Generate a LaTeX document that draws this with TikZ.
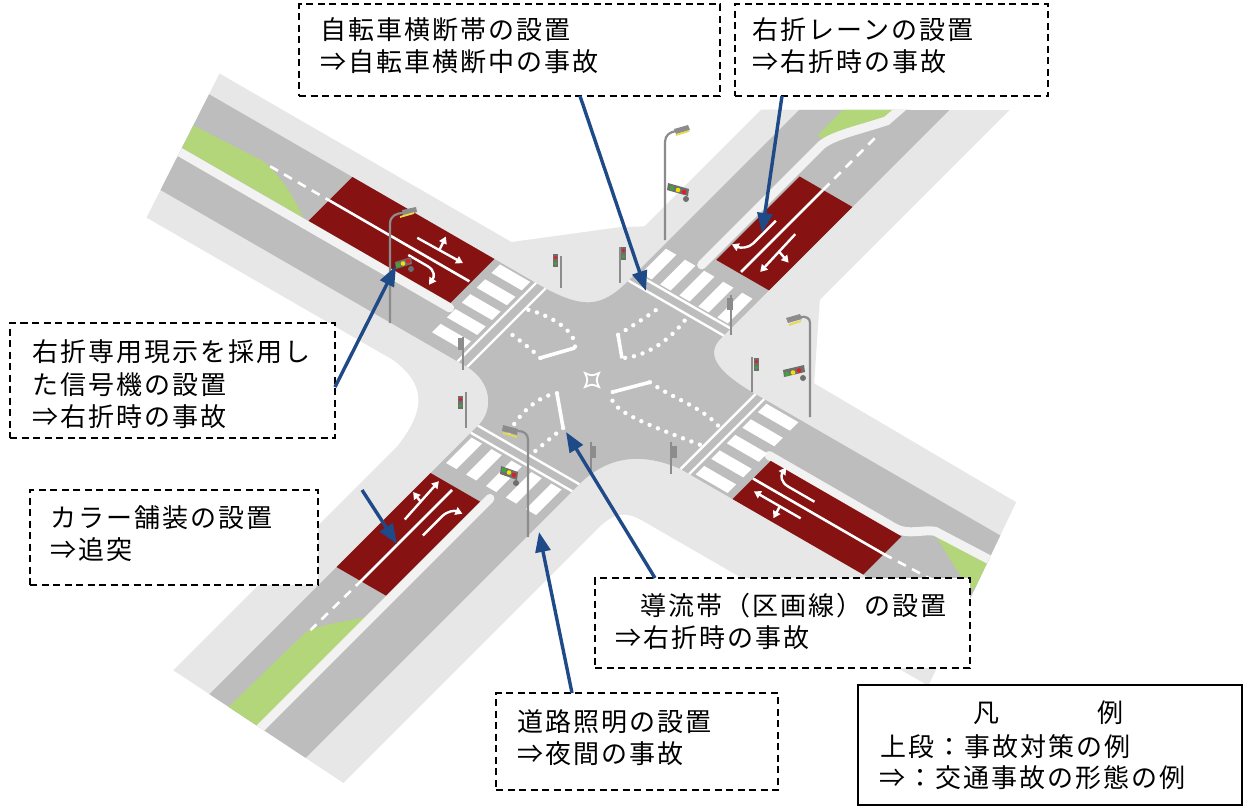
\documentclass[tikz,border=0pt]{standalone}
\usepackage{fontspec}
\newfontfamily\jp[LetterSpace=8]{Noto Sans CJK JP}
\usetikzlibrary{arrows.meta,calc}
\definecolor{walk}{HTML}{E7E7E7}
\definecolor{road}{HTML}{BDBDBD}
\definecolor{pave}{HTML}{861212}
\definecolor{grass}{HTML}{B3D67A}
\definecolor{stripc}{HTML}{F2F2F2}
\definecolor{navy}{HTML}{1F4A88}
\definecolor{polec}{HTML}{8C8C8C}
\definecolor{headc}{HTML}{6E6E6E}
\definecolor{lampc}{HTML}{E8D84A}
\definecolor{sgreen}{HTML}{3FA535}
\definecolor{syellow}{HTML}{F0E200}
\definecolor{sred}{HTML}{E02020}
\newcommand{\jpf}{\jp\fontsize{26}{31}\selectfont}
\newcommand{\mySilhouette}{(-497,82) -- (-160,82) -- (-91,152) -- (-74,165) -- (-74,330) -- (108,458) -- (108,190) -- (165,112) -- (400,110) -- (470,-100) -- (140,-100) .. controls (120,-100) and (113,-108) .. (113,-130) -- (113,-490) -- (-94,-477) -- (-94,-160) .. controls (-100,-110) and (-120,-90) .. (-160,-85) -- (-445,-85) -- cycle}
\newcommand{\myRoadway}{(-495,58) -- (-101,58) .. controls (-58,60) and (-46,70) .. (-46,108) -- (-46,360) -- (64,440) -- (64,108) .. controls (62,84) and (80,72) .. (130,72) -- (420,72) -- (455,-34) -- (130,-34) .. controls (95,-38) and (67,-55) .. (67,-100) -- (67,-495) -- (-50,-488) -- (-50,-100) .. controls (-50,-75) and (-75,-53) .. (-101,-53) -- (-460,-53) -- cycle}
\begin{document}
\begin{tikzpicture}[x=1pt,y=-1pt,
  dbox/.style={draw=black, fill=white, line width=1.5pt, dash pattern=on 7pt off 4.5pt, rectangle, inner sep=0pt, outer sep=0pt, anchor=north west},
  lbox/.style={draw=black, fill=white, line width=1.8pt, rectangle, inner sep=0pt, outer sep=0pt, anchor=north west},
  txt/.style={anchor=west, inner sep=0pt, font=\jpf},
  conn/.style={draw=navy, line width=3.4pt, -{Triangle[width=15pt,length=20pt]}},
  wline/.style={draw=white, line width=2.4pt},
  zebrafill/.style={fill=white},
  parrow/.style={draw=white, line width=2.4pt, -{Triangle[width=8pt,length=7pt]}},
  guidedots/.style={draw=white, line width=4.4pt, line cap=round, dash pattern=on 0pt off 9pt},
  whitebar/.style={draw=white, line width=3.6pt},
  medstrip/.style={draw=stripc, line width=9pt, line cap=round},
  poleln/.style={draw=polec, line width=2.2pt},
  postln/.style={draw=polec, line width=1.7pt},
  dashln/.style={draw=white, line width=2.6pt, dash pattern=on 9pt off 7pt},
  solidln/.style={draw=white, line width=2.6pt},
]
\fill[white] (0,0) rectangle (1249,807);
\useasboundingbox (0,0) rectangle (1249,807);

% ---------------- road scene in plan coordinates ----------------
\begin{scope}[shift={(592,380)},x={(0.866pt,-0.5pt)},y={(0.707pt,0.707pt)}]
 \fill[walk] \mySilhouette;
 \begin{scope}
  \clip \mySilhouette;
  \fill[road] \myRoadway;
  % green medians
  \fill[grass] (-470,-4) -- (-478,22) -- (-400,26) .. controls (-370,20) and (-345,5) .. (-330,-4) -- cycle;
  \fill[grass] (-14,336) -- (-14,420) -- (26,430) -- (26,385) .. controls (12,362) and (-2,345) .. (-6,336) -- cycle;
  \fill[grass] (358,41) .. controls (385,30) and (405,18) .. (425,10) -- (440,10) -- (440,47) -- cycle;
  \fill[grass] (8,-330) .. controls (-5,-345) and (-20,-360) .. (-25,-375) -- (-27,-500) -- (8,-500) -- cycle;
  % median strips
  \draw[medstrip] (-157,-9) -- (-510,-9);
  \draw[medstrip] (-4,160) -- (-4,330) .. controls (-2,345) and (12,362) .. (26,385) -- (30,440);
  \draw[medstrip] (185,24) -- (330,24) .. controls (345,24) and (352,38) .. (362,42) -- (480,47);
  \draw[medstrip] (12,-159) -- (12,-510);
  % coloured pavement
  \fill[pave] (-324,-4) -- (-160,-4) -- (-160,58) -- (-324,58) -- cycle;
  \fill[pave] (3,172) -- (64,172) -- (64,290) -- (3,290) -- cycle;
  \fill[pave] (190,-34) -- (341,-34) -- (341,20) -- (190,20) -- cycle;
  \fill[pave] (-50,-167) -- (7,-167) -- (7,-300) -- (-50,-300) -- cycle;
  % lane lines
  \draw[solidln] (-324,25) -- (-162,25);
  \draw[dashln] (-392,25) -- (-324,25);
  \draw[solidln] (30,174) -- (30,290);
  \draw[dashln] (30,290) -- (30,368);
  \draw[solidln] (190,-5) -- (341,-5);
  \draw[dashln] (341,-5) -- (425,-2);
  \draw[solidln] (-22,-171) -- (-22,-298);
  \draw[dashln] (-22,-298) -- (-23,-370);
  % crosswalks
  \draw[wline] (-101,-53) -- (-101,58);
  \draw[wline] (-112,-53) -- (-112,58);
  \foreach \c in {50,29,8,-13,-34}
    \fill[zebrafill] (-152,\c-6) -- (-117,\c-6) -- (-117,\c+6) -- (-152,\c+6) -- cycle;
  \draw[wline] (-46,108) -- (64,108);
  \draw[wline] (-46,118) -- (64,118);
  \foreach \c in {-36,-14,8,30,52}
    \fill[zebrafill] (\c-6,121) -- (\c+6,121) -- (\c+6,156) -- (\c-6,156) -- cycle;
  \draw[wline] (130,-34) -- (130,72);
  \draw[wline] (140,-34) -- (140,72);
  \foreach \c in {63,41,19,-3,-25}
    \fill[zebrafill] (145,\c-6) -- (182,\c-6) -- (182,\c+6) -- (145,\c+6) -- cycle;
  \draw[wline] (-50,-100) -- (67,-100);
  \draw[wline] (-50,-110) -- (67,-110);
  \foreach \c in {-40,-17,6,29,52}
    \fill[zebrafill] (\c-6,-114) -- (\c+6,-114) -- (\c+6,-150) -- (\c-6,-150) -- cycle;
  % painted arrows
  \draw[parrow] (-232,37) -- (-180,38);
  \draw[parrow] (-207,38) -- (-212,53);
  \draw[parrow] (-226,17) -- (-204,17) .. controls (-195,17) and (-191,11) .. (-189,1);
  \draw[parrow] (42,236) -- (44,184);
  \draw[parrow] (43,212) -- (58,207);
  \draw[parrow] (18,238) -- (18,206) .. controls (18,199) and (12,195) .. (3,194);
  \draw[parrow] (254,-16) -- (200,-16);
  \draw[parrow] (230,-16) -- (234,-30);
  \draw[parrow] (252,6) -- (222,6) .. controls (213,6) and (208,12) .. (206,22);
  \draw[parrow] (-35,-222) -- (-38,-170);
  \draw[parrow] (-36,-198) -- (-49,-193);
  \draw[parrow] (-10,-227) -- (-10,-200) .. controls (-10,-192) and (-5,-188) .. (3,-187);
  % channelising zones
  \draw[guidedots] (-98,30) .. controls (-75,37) and (-46,35) .. (-36,20);
  \draw[guidedots] (-54,-7) .. controls (-66,-4) and (-80,-2) .. (-98,0);
  \draw[whitebar] (-36,20) -- (-54,-7);
  \draw[whitebar] (-14,54) -- (6,35);
  \draw[guidedots] (-14,54) .. controls (-10,70) and (-6,85) .. (-3,104);
  \draw[guidedots] (8,37) .. controls (22,50) and (28,75) .. (24,104);
  \draw[whitebar] (24,0) -- (44,28);
  \draw[guidedots] (24,0) .. controls (30,-18) and (60,-14) .. (127,-2);
  \draw[guidedots] (44,28) .. controls (70,25) and (100,33) .. (127,24);
  \draw[whitebar] (-16,-30) -- (14,-58);
  \draw[guidedots] (-16,-30) .. controls (-30,-45) and (-28,-75) .. (-20,-98);
  \draw[guidedots] (14,-58) .. controls (12,-75) and (11,-88) .. (10,-98);
 \end{scope}
\end{scope}

% centre mark
\draw[white, line width=1.8pt] (585,373) .. controls (592,376) .. (599,373) .. controls (596,380) .. (599,387) .. controls (592,384) .. (585,387) .. controls (588,380) .. (585,373) -- cycle;

% ---------------- poles, lamps and signals ----------------
% NW tall
\draw[poleln] (390,323) -- (390,224) .. controls (390,216) and (396,213) .. (404,213);
\fill[polec] (402,210) -- (416,207) -- (417,212) -- (403,216) -- cycle;
\draw[lampc, line width=1.8pt] (400,217) -- (414,213);
\fill[headc] (395,262) -- (411,257) -- (412,264) -- (396,269) -- cycle;
\fill[sgreen] (398,265) circle (2.3pt); \fill[syellow] (403,263.5) circle (2.3pt); \fill[sred] (408,261) circle (2.3pt);
\fill[headc] (411,269) circle (3pt);
% N small signals
\draw[postln] (561,256) -- (561,288);
\fill[headc] (553,254) rectangle (558,267);
\fill[sred] (555.5,257.5) circle (1.8pt); \fill[sgreen] (555.5,263.5) circle (1.8pt);
\draw[postln] (620,247) -- (620,283);
\fill[headc] (621,247) rectangle (626,260);
\fill[sred] (623.5,250.5) circle (1.8pt); \fill[sgreen] (623.5,256.5) circle (1.8pt);
% NE tall
\draw[poleln] (665,240) -- (665,142) .. controls (665,135) and (670,132) .. (676,131);
\fill[polec] (674,129) -- (688,125) -- (690,130) -- (676,134) -- cycle;
\draw[lampc, line width=1.8pt] (676,135) -- (689,131);
\fill[headc] (668,183) -- (689,189) -- (688,196) -- (667,190) -- cycle;
\fill[sgreen] (672,188) circle (2.3pt); \fill[syellow] (678,190) circle (2.3pt); \fill[sred] (684,192) circle (2.3pt);
\fill[headc] (686,199) circle (3pt);
% NE post
\draw[postln] (731,295) -- (731,335);
\fill[polec] (727,298) rectangle (733,310);
% E tall
\draw[poleln] (810,417) -- (810,323) .. controls (810,318) and (806,316) .. (800,317);
\fill[polec] (786,318) -- (800,314) -- (802,319) -- (788,323) -- cycle;
\draw[lampc, line width=1.8pt] (789,325) -- (801,321);
\fill[headc] (783,370) -- (804,365) -- (805,372) -- (784,377) -- cycle;
\fill[sgreen] (787,374) circle (2.3pt); \fill[syellow] (793,372.5) circle (2.3pt); \fill[sred] (799,370.5) circle (2.3pt);
\fill[headc] (803,378) circle (3pt);
% E small
\draw[postln] (752,357) -- (752,392);
\fill[headc] (754,358) rectangle (759,371);
\fill[sred] (756.5,361.5) circle (1.8pt); \fill[sgreen] (756.5,367.5) circle (1.8pt);
% W small
\draw[postln] (466,392) -- (466,428);
\fill[headc] (458,396) rectangle (463,409);
\fill[sred] (460.5,399.5) circle (1.8pt); \fill[sgreen] (460.5,405.5) circle (1.8pt);
% W post
\draw[postln] (463,337) -- (463,370);
\fill[polec] (458,338) rectangle (463,350);
% S tall
\draw[poleln] (528,537) -- (528,440) .. controls (528,434) and (524,431) .. (518,431);
\fill[polec] (503,425) -- (518,429) -- (517,435) -- (502,431) -- cycle;
\draw[lampc, line width=1.8pt] (503,433) -- (517,437);
\fill[headc] (501,466) -- (518,472) -- (517,480) -- (500,474) -- cycle;
\fill[sgreen] (504,470) circle (2.3pt); \fill[syellow] (509,472.5) circle (2.3pt); \fill[sred] (514,475) circle (2.3pt);
\fill[headc] (516,483) circle (3pt);
% S posts
\draw[postln] (591,442) -- (591,474);
\fill[polec] (592,446) rectangle (596,458);
\draw[postln] (671,442) -- (671,474);
\fill[polec] (672,446) rectangle (677,458);

% ---------------- boxes and texts ----------------
\node[dbox, minimum width=421pt, minimum height=92pt] (boxA) at (299,4) {};
\node[txt] (tA1) at (320,30) {自転車横断帯の設置};
\node[txt] (tA2) at (320,62) {⇒自転車横断中の事故};

\node[dbox, minimum width=313pt, minimum height=92pt] (boxB) at (735,4) {};
\node[txt] (tB1) at (752,30) {右折レーンの設置};
\node[txt] (tB2) at (752,62) {⇒右折時の事故};

\node[dbox, minimum width=325pt, minimum height=115pt] (boxC) at (10,323) {};
\node[txt] (tC1) at (32,352) {右折専用現示を採用し};
\node[txt] (tC2) at (32,385) {た信号機の設置};
\node[txt] (tC3) at (32,417) {⇒右折時の事故};

\node[dbox, minimum width=288pt, minimum height=95pt] (boxD) at (30,490) {};
\node[txt] (tD1) at (50,518) {カラー舗装の設置};
\node[txt] (tD2) at (50,550) {⇒追突};

\node[dbox, minimum width=375pt, minimum height=90pt] (boxE) at (595,578) {};
\node[txt] (tE1) at (640,606) {導流帯（区画線）の設置};
\node[txt] (tE2) at (615,638) {⇒右折時の事故};

\node[dbox, minimum width=282pt, minimum height=97pt] (boxF) at (496,693) {};
\node[txt] (tF1) at (517,722) {道路照明の設置};
\node[txt] (tF2) at (517,754) {⇒夜間の事故};

\node[lbox, minimum width=384pt, minimum height=120pt] (legend) at (858,685) {};
\node[txt] (lg1) at (973,713) {凡};
\node[txt] (lg2) at (1097,713) {例};
\node[txt] (lg3) at (880,747) {上段：事故対策の例};
\node[txt] (lg4) at (879,778) {⇒：交通事故の形態の例};

% ---------------- connectors ----------------
\coordinate (pA) at (646,291);
\coordinate (pB) at (762,233);
\coordinate (pC) at (396,266);
\coordinate (pD) at (397,544);
\coordinate (pE) at (566,432);
\coordinate (pF) at (539,532);
\draw[conn] ([xshift=281pt]boxA.south west) -- (pA);
\draw[conn] ([xshift=47pt]boxB.south west) -- (pB);
\draw[conn] ([yshift=-64pt]boxC.north east) -- (pC);
\draw[conn] ([xshift=332pt]boxD.north west) -- (pD);
\draw[conn] ([xshift=60pt]boxE.north west) -- (pE);
\draw[conn] ([xshift=76pt]boxF.north west) -- (pF);
\end{tikzpicture}
\end{document}
